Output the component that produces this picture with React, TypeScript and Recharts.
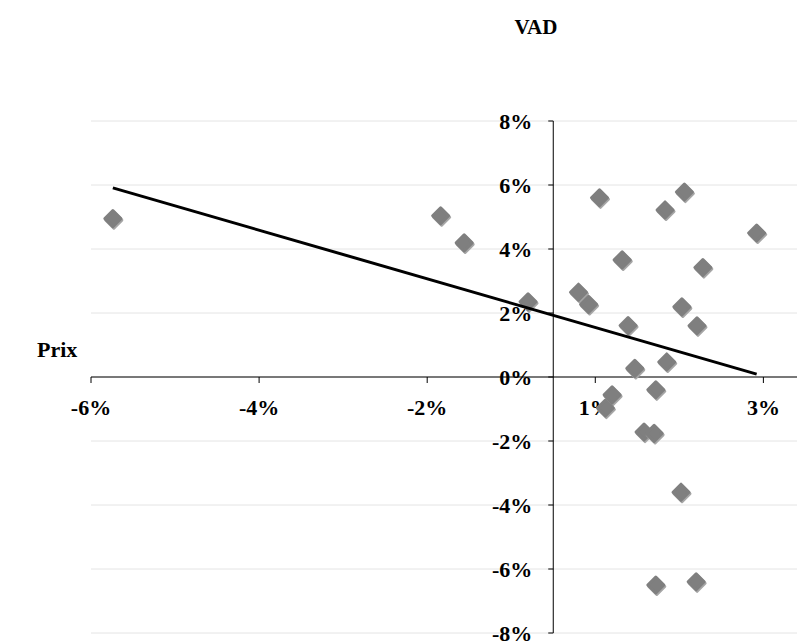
import React from 'react';
import { ScatterChart, Scatter, XAxis, YAxis, ReferenceLine } from 'recharts';

// Prix (horizontal axis) and VAD (vertical axis), as fractions
const prixValues = [
  -0.0524, -0.0134, -0.0106, -0.003, 0.003, 0.0042, 0.0055, 0.0082, 0.0089,
  0.0097, 0.007, 0.0062, 0.0122, 0.0108, 0.012, 0.0152, 0.0122, 0.017,
  0.0135, 0.0171, 0.0153, 0.0178, 0.0242, 0.0133, 0.0156,
];
const vadValues = [
  0.0495, 0.0504, 0.0419, 0.0235, 0.0265, 0.0227, 0.056, 0.0366, 0.0161,
  0.0027, -0.0056, -0.0097, -0.004, -0.0172, -0.0176, -0.036, -0.065, -0.064,
  0.0047, 0.016, 0.0219, 0.0342, 0.045, 0.0522, 0.0578,
];

// trend line end points
const trendPrix = [-0.0524, 0.0242];
const trendVad = [0.0591, 0.0009];

const xTicks = [-0.055, -0.035, -0.015, 0.005, 0.025];
const xTickLabels = ['-6%', '-4%', '-2%', '1%', '3%'];
const yTicks = [0.08, 0.06, 0.04, 0.02, 0, -0.02, -0.04, -0.06, -0.08];
const yTickLabels = ['8%', '6%', '4%', '2%', '0%', '-2%', '-4%', '-6%', '-8%'];

const points = prixValues.map((x, i) => ({ x, y: vadValues[i] }));
const trend = trendPrix.map((x, i) => ({ x, y: trendVad[i] }));
const xTickData = xTicks.map((x, i) => ({ x, y: 0, label: xTickLabels[i] }));
const yTickData = yTicks.map((y, i) => ({ x: 0, y, label: yTickLabels[i] }));

const FONT = '"Liberation Serif", "Times New Roman", serif';
const tickStyle: React.CSSProperties = {
  fontFamily: FONT,
  fontWeight: 'bold',
  fontSize: 22,
  fill: '#000',
};

const Diamond = (props: any) => {
  const { cx, cy } = props;
  if (cx == null || cy == null) return <g />;
  const r = 8;
  const d = `M${cx},${cy - r} L${cx + r},${cy} L${cx},${cy + r} L${cx - r},${cy} Z`;
  return (
    <g>
      <path d={d} transform="translate(1,1.5)" fill="#a6a6a6" stroke="#a6a6a6" strokeWidth={3} strokeLinejoin="round" />
      <path d={d} fill="#7f7f7f" stroke="#7f7f7f" strokeWidth={3} strokeLinejoin="round" />
    </g>
  );
};

const XTick = (props: any) => {
  const { cx, cy, payload } = props;
  if (cx == null || cy == null) return <g />;
  return (
    <g>
      <line x1={cx} y1={cy} x2={cx} y2={cy + 6} stroke="#000" strokeWidth={1} />
      <text x={cx} y={cy + 38} textAnchor="middle" style={tickStyle}>
        {payload.label}
      </text>
    </g>
  );
};

const YTick = (props: any) => {
  const { cx, cy, payload } = props;
  if (cx == null || cy == null) return <g />;
  return (
    <g>
      <line x1={cx - 5} y1={cy} x2={cx} y2={cy} stroke="#000" strokeWidth={1} />
      <text x={cx - 21} y={cy + 8} textAnchor="end" style={tickStyle}>
        {payload.label}
      </text>
    </g>
  );
};

const NoShape = () => <g />;

export default function App() {
  return (
    <div style={{ position: 'absolute', left: 0, top: 0, width: 797, height: 643, background: '#fff' }}>
      <ScatterChart width={797} height={643} margin={{ top: 121, right: 0, bottom: 10, left: 91 }}>
        <XAxis type="number" dataKey="x" domain={[-0.055, 0.029]} hide />
        <YAxis type="number" dataKey="y" domain={[-0.08, 0.08]} hide />
        {yTicks.map((t) => (
          <ReferenceLine key={`g${t}`} y={t} stroke="#e4e4e4" strokeWidth={1} />
        ))}
        <ReferenceLine y={0} stroke="#000" strokeWidth={1} />
        <ReferenceLine x={0} stroke="#000" strokeWidth={1} />
        <Scatter data={xTickData} shape={XTick} isAnimationActive={false} />
        <Scatter data={yTickData} shape={YTick} isAnimationActive={false} />
        <Scatter data={points} shape={Diamond} isAnimationActive={false} />
        <Scatter
          data={trend}
          shape={NoShape}
          line={{ stroke: '#000', strokeWidth: 3 }}
          isAnimationActive={false}
        />
      </ScatterChart>
      <div style={{ position: 'absolute', left: 496, top: 16, fontFamily: FONT, fontWeight: 'bold', fontSize: 21, lineHeight: '22px', width: 80, textAlign: 'center' }}>
        VAD
      </div>
      <div style={{ position: 'absolute', left: 37, top: 339, fontFamily: FONT, fontWeight: 'bold', fontSize: 22, lineHeight: '22px' }}>
        Prix
      </div>
    </div>
  );
}
